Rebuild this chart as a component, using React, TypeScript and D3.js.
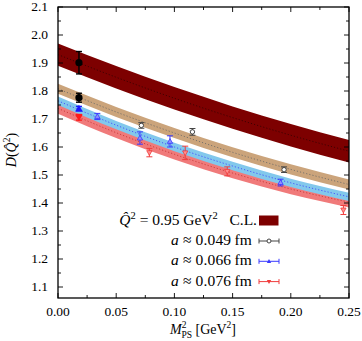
import React from 'react';
import * as d3 from 'd3';

const W = 362, H = 341;
const X0 = 58, X1 = 349, YT = 7, YB = 298;

// chiral fit bands (centre values at bandX), half widths
const bandX = [0, 0.05, 0.1, 0.15, 0.2, 0.25];
const clCenter = [1.930, 1.849, 1.774, 1.705, 1.642, 1.585];
const clHalf = 0.040;
const fineCenter = [1.808, 1.725, 1.650, 1.581, 1.520, 1.466];
const fineHalf = 0.018;
const midCenter = [1.765, 1.678, 1.600, 1.532, 1.472, 1.422];
const midHalf = 0.015;
const coarseCenter = [1.738, 1.651, 1.574, 1.507, 1.450, 1.403];
const coarseHalf = 0.019;

// lattice data
const fineX = [0.0716, 0.1155, 0.1942];
const fineY = [1.677, 1.654, 1.519];
const fineErr = [0.010, 0.012, 0.010];
const midX = [0.0338, 0.0704, 0.0962, 0.1912];
const midY = [1.709, 1.632, 1.620, 1.473];
const midErr = [0.011, 0.022, 0.020, 0.012];
const coarseX = [0.0785, 0.1093, 0.1454, 0.2452];
const coarseY = [1.580, 1.579, 1.513, 1.375];
const coarseErr = [0.015, 0.024, 0.016, 0.016];

// values at the physical point
const physX = 0.018;
const physCL = [1.901, 0.040];
const physFine = [1.776, 0.016];
const physMid = [1.737, 0.008];
const physCoarse = [1.706, 0.010];

const xTicks = [0, 0.05, 0.1, 0.15, 0.2, 0.25];
const xTickLabels = ['0.00', '0.05', '0.10', '0.15', '0.20', '0.25'];
const yTicks = [1.1, 1.2, 1.3, 1.4, 1.5, 1.6, 1.7, 1.8, 1.9, 2.0, 2.1];
const yTickLabels = ['1.1', '1.2', '1.3', '1.4', '1.5', '1.6', '1.7', '1.8', '1.9', '2.0', '2.1'];

const legendLabels = ['a ≈ 0.049 fm', 'a ≈ 0.066 fm', 'a ≈ 0.076 fm'];

const C_CL = '#7d0000';
const C_FINE_BAND = '#cba47b';
const C_MID_BAND = '#82c8ec';
const C_COARSE_BAND = '#f07a7a';
const C_FINE = '#444444';
const C_MID = '#3a3aff';
const C_COARSE = '#f03c3c';

const FONT = '"Liberation Serif", "DejaVu Serif", serif';

const x = d3.scaleLinear().domain([0, 0.25]).range([X0, X1]);
const y = d3.scaleLinear().domain([2.1 - (YB - YT) / 280, 2.1]).range([YB, YT]);

function bandPaths(center: number[], half: number) {
  const pts = bandX.map((v, i) => ({ x: v, c: center[i] }));
  const area = d3.area<any>().x(d => x(d.x)).y0(d => y(d.c - half)).y1(d => y(d.c + half)).curve(d3.curveMonotoneX);
  const line = d3.line<any>().x(d => x(d.x)).y(d => y(d.c)).curve(d3.curveMonotoneX);
  return { area: area(pts) || '', line: line(pts) || '' };
}

function triUp(cx: number, cy: number, s: number) {
  return `M${cx},${cy - s}L${cx + s * 0.95},${cy + s * 0.7}L${cx - s * 0.95},${cy + s * 0.7}Z`;
}
function triDown(cx: number, cy: number, s: number) {
  return `M${cx},${cy + s}L${cx + s * 0.95},${cy - s * 0.7}L${cx - s * 0.95},${cy - s * 0.7}Z`;
}

function ErrBar({ px, py, e, color, w = 1 }: any) {
  const top = y(py + e), bot = y(py - e), cx = x(px);
  return (
    <g stroke={color} strokeWidth={w} fill="none">
      <line x1={cx} x2={cx} y1={top} y2={bot} />
      <line x1={cx - 3} x2={cx + 3} y1={top} y2={top} />
      <line x1={cx - 3} x2={cx + 3} y1={bot} y2={bot} />
    </g>
  );
}

export default function App() {
  const cl = bandPaths(clCenter, clHalf);
  const fine = bandPaths(fineCenter, fineHalf);
  const mid = bandPaths(midCenter, midHalf);
  const coarse = bandPaths(coarseCenter, coarseHalf);

  const minorX = d3.range(0, 0.2501, 0.025);
  const minorY = d3.range(1.1, 2.1001, 0.05);

  return (
    <svg width={W} height={H} style={{ position: 'absolute', left: 0, top: 0 }} fontFamily={FONT}>
      <rect x={0} y={0} width={W} height={H} fill="#fff" />
      <defs>
        <clipPath id="plot">
          <rect x={X0} y={YT} width={X1 - X0} height={YB - YT} />
        </clipPath>
      </defs>
      <g clipPath="url(#plot)">
        <path d={cl.area} fill={C_CL} />
        <path d={cl.line} fill="none" stroke="#300000" strokeWidth={0.8} strokeDasharray="1.2,2" />
        <path d={coarse.area} fill={C_COARSE_BAND} />
        <path d={coarse.line} fill="none" stroke="#c03030" strokeWidth={0.8} strokeDasharray="1.2,2" />
        <path d={mid.area} fill={C_MID_BAND} />
        <path d={mid.line} fill="none" stroke="#3a3aff" strokeWidth={0.8} strokeDasharray="1.2,2" />
        <path d={fine.area} fill={C_FINE_BAND} />
        <path d={fine.line} fill="none" stroke="#666" strokeWidth={0.8} strokeDasharray="1.2,2" />

        {/* lattice data */}
        {fineX.map((v, i) => (
          <g key={'f' + i}>
            <ErrBar px={v} py={fineY[i]} e={fineErr[i]} color={C_FINE} />
            <circle cx={x(v)} cy={y(fineY[i])} r={2.2} fill="#fff" stroke={C_FINE} strokeWidth={1} />
          </g>
        ))}
        {midX.map((v, i) => (
          <g key={'m' + i}>
            <ErrBar px={v} py={midY[i]} e={midErr[i]} color={C_MID} />
            <path d={triUp(x(v), y(midY[i]), 2.8)} fill="#8f8fff" stroke={C_MID} strokeWidth={0.8} />
          </g>
        ))}
        {coarseX.map((v, i) => (
          <g key={'c' + i}>
            <ErrBar px={v} py={coarseY[i]} e={coarseErr[i]} color={C_COARSE} />
            <path d={triDown(x(v), y(coarseY[i]), 2.8)} fill="#ff8f8f" stroke={C_COARSE} strokeWidth={0.8} />
          </g>
        ))}

        {/* physical point */}
        <ErrBar px={physX} py={physCL[0]} e={physCL[1]} color="#000" w={1.4} />
        <circle cx={x(physX)} cy={y(physCL[0])} r={3.6} fill="#000" />
        <ErrBar px={physX} py={physFine[0]} e={physFine[1]} color="#000" w={1.4} />
        <circle cx={x(physX)} cy={y(physFine[0])} r={3.6} fill="#000" />
        <ErrBar px={physX} py={physMid[0]} e={physMid[1]} color="#1a1aff" w={1.4} />
        <path d={triUp(x(physX), y(physMid[0]), 4)} fill="#1a1aff" />
        <ErrBar px={physX} py={physCoarse[0]} e={physCoarse[1]} color="#ff1a1a" w={1.4} />
        <path d={triDown(x(physX), y(physCoarse[0]), 4)} fill="#ff1a1a" />
      </g>

      {/* frame */}
      <rect x={X0} y={YT} width={X1 - X0} height={YB - YT} fill="none" stroke="#000" strokeWidth={1.3} />
      {/* ticks */}
      <g stroke="#000" strokeWidth={0.9}>
        {minorX.map((v, i) => {
          const major = i % 2 === 0;
          const l = major ? 5 : 3;
          return (
            <g key={'tx' + i}>
              <line x1={x(v)} x2={x(v)} y1={YB} y2={YB - l} />
              <line x1={x(v)} x2={x(v)} y1={YT} y2={YT + l} />
            </g>
          );
        })}
        {minorY.map((v, i) => {
          const major = i % 2 === 0;
          const l = major ? 5 : 3;
          return (
            <g key={'ty' + i}>
              <line x1={X0} x2={X0 + l} y1={y(v)} y2={y(v)} />
              <line x1={X1} x2={X1 - l} y1={y(v)} y2={y(v)} />
            </g>
          );
        })}
      </g>
      <g fontSize={13.5} fill="#000">
        {xTicks.map((v, i) => (
          <text key={'xl' + i} x={x(v)} y={316} textAnchor="middle">{xTickLabels[i]}</text>
        ))}
        {yTicks.map((v, i) => (
          <text key={'yl' + i} x={48} y={y(v)} dy="0.33em" textAnchor="end">{yTickLabels[i]}</text>
        ))}
      </g>

      {/* axis titles */}
      <text x={203} y={334} textAnchor="middle" fontSize={14}>
        <tspan fontStyle="italic">M</tspan>
        <tspan fontSize={9.5} dy={-6}>2</tspan>
        <tspan fontSize={9.5} dx={-5} dy={10}>PS</tspan>
        <tspan dy={-4}>{' [GeV'}</tspan>
        <tspan fontSize={9.5} dy={-6}>2</tspan>
        <tspan dy={6}>]</tspan>
      </text>
      <text transform="translate(16,150) rotate(-90)" textAnchor="middle" fontSize={14}>
        <tspan fontStyle="italic">D</tspan>
        <tspan>(</tspan>
        <tspan fontStyle="italic">{'Q\u0302'}</tspan>
        <tspan fontSize={9.5} dy={-6}>2</tspan>
        <tspan dy={6}>)</tspan>
      </text>

      {/* legend */}
      <g fontSize={15.5} fill="#000">
        <text x={257} y={225} textAnchor="end">
          <tspan fontStyle="italic">{'Q\u0302'}</tspan>
          <tspan fontSize={10.5} dy={-6}>2</tspan>
          <tspan dy={6}>{' = 0.95 GeV'}</tspan>
          <tspan fontSize={10.5} dy={-6}>2</tspan>
          <tspan dy={6}>{'\u2002 C.L.'}</tspan>
        </text>
        <rect x={259} y={215.5} width={19.5} height={10} fill={C_CL} />
        {legendLabels.map((lab, i) => {
          const by = 245 + i * 20.3;
          const my = by - 4;
          const col = [C_FINE, C_MID, C_COARSE][i];
          const parts = lab.split(' ');
          return (
            <g key={'lg' + i}>
              <text x={252} y={by} textAnchor="end" letterSpacing={0.15}>
                <tspan fontStyle="italic">{parts[0]}</tspan>
                <tspan>{' ' + parts[1] + ' ' + parts[2] + '\u2009' + parts[3]}</tspan>
              </text>
              <g stroke={col} strokeWidth={1}>
                <line x1={259} x2={279} y1={my} y2={my} />
                <line x1={259} x2={259} y1={my - 2.5} y2={my + 2.5} />
                <line x1={279} x2={279} y1={my - 2.5} y2={my + 2.5} />
              </g>
              {i === 0 && <circle cx={269} cy={my} r={2} fill="#fff" stroke={col} strokeWidth={1} />}
              {i === 1 && <path d={triUp(269, my, 2.3)} fill={col} />}
              {i === 2 && <path d={triDown(269, my, 2.3)} fill={col} />}
            </g>
          );
        })}
      </g>
    </svg>
  );
}
